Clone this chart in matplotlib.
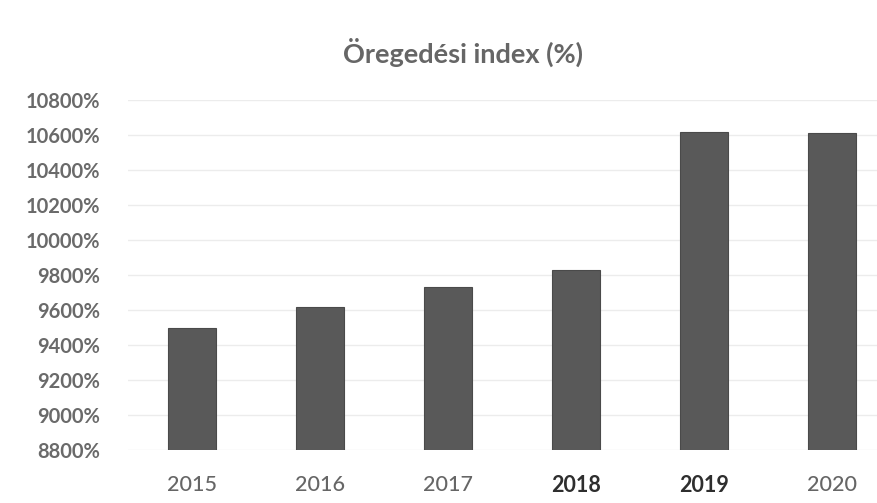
import matplotlib
matplotlib.use("Agg")
import matplotlib.pyplot as plt
from matplotlib.ticker import FuncFormatter

# Öregedési index értékek évente
years = ["2015", "2016", "2017", "2018", "2019", "2020"]
index_pct = [9500, 9620, 9730, 9830, 10620, 10610]
bold_years = ["2018", "2019"]
y_ticks = list(range(8800, 10801, 200))

plt.rcParams['font.family'] = ['Lato', 'DejaVu Sans']

fig = plt.figure(figsize=(8.77, 5.03), dpi=100)
ax = fig.add_axes([128 / 877, 53 / 503, 768 / 877, 350 / 503])

x = range(len(years))
ax.bar(x, index_pct, width=0.375, color='#595959', edgecolor='#4a4a4a',
       linewidth=0.8, zorder=3)

ax.set_ylim(8800, 10800)
ax.set_xlim(-0.5, len(years) - 0.5)
ax.set_yticks(y_ticks)
ax.yaxis.set_major_formatter(FuncFormatter(lambda v, _: f"{v:.0f}%"))
ax.grid(axis='y', color='#ececec', linewidth=1.0, zorder=0)

ax.set_xticks(list(x))
ax.set_xticklabels(years)
for lbl in ax.get_xticklabels():
    if lbl.get_text() in bold_years:
        lbl.set_fontweight('bold')
        lbl.set_color('#2e2e2e')
    else:
        lbl.set_fontweight('medium')
        lbl.set_color('#666666')
    lbl.set_fontsize(15.5)

for lbl in ax.get_yticklabels():
    lbl.set_fontsize(14.5)
    lbl.set_fontweight('bold')
    lbl.set_color('#6a6a6a')

ax.tick_params(axis='both', length=0)
ax.tick_params(axis='y', pad=20)
ax.tick_params(axis='x', pad=18)
for s in ax.spines.values():
    s.set_visible(False)

fig.text(463 / 877, 1 - 52 / 503, "Öregedési index (%)", ha='center', va='center',
         fontsize=19.5, fontweight='bold', color='#666666')

fig.savefig("out.png", dpi=100)
